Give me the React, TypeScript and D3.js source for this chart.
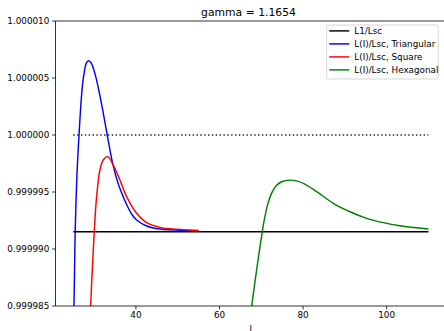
import React from "react";
import * as d3 from "d3";

const W = 444;
const H = 331;

const title = "gamma = 1.1654";
const xLabel = "l";
const xTicks = [40, 60, 80, 100];
const yTicks = [0.999985, 0.99999, 0.999995, 1.0, 1.000005, 1.00001];

const refX = [25, 110];
const dottedY = 1.0;
const l1Value = 0.99999152;

const triX = [25.0, 25.23, 25.47, 25.9, 26.38, 26.9, 27.25, 27.72, 28.1, 28.68, 29.3, 29.9, 30.5, 31.55, 32.34, 33.13, 33.85, 34.57, 35.4, 36.17, 37.77, 39.0, 40.17, 42.56, 45.74, 52.92, 55.0];
const triY = [0.9999815, 0.9999864, 0.99999152, 0.99999664, 1.0, 1.00000307, 1.00000453, 1.0000057, 1.00000628, 1.00000651, 1.0000063, 1.00000575, 1.00000495, 1.00000315, 1.0000016, 1.0, 0.99999855, 0.9999973, 0.99999615, 0.9999953, 0.9999939, 0.99999305, 0.99999254, 0.99999202, 0.99999175, 0.99999161, 0.99999158];

const sqX = [28.9, 29.15, 30.02, 30.59, 31.38, 32.17, 33.23, 34.57, 36.17, 37.77, 40.17, 42.56, 45.74, 52.92, 55.0];
const sqY = [0.999983, 0.999985, 0.99999152, 0.99999459, 0.99999693, 0.99999781, 0.9999981, 0.99999737, 0.99999605, 0.99999459, 0.99999313, 0.99999231, 0.9999919, 0.99999167, 0.99999163];

const hexX = [67.4, 67.69, 68.9, 70.23, 70.71, 71.52, 72.48, 73.51, 74.87, 76.9, 78.6, 80.3, 83.25, 87.22, 91.22, 95.22, 99.19, 103.19, 110.0];
const hexY = [0.99998425, 0.999985, 0.9999882, 0.99999152, 0.99999255, 0.99999389, 0.9999949, 0.99999552, 0.9999959, 0.99999604, 0.99999595, 0.99999572, 0.99999503, 0.99999401, 0.99999327, 0.99999269, 0.99999231, 0.99999204, 0.99999175];

const legendLabels = ["L1/Lsc", "L(I)/Lsc, Triangular", "L(I)/Lsc, Square", "L(I)/Lsc, Hexagonal"];
const colors = ["#000000", "#0000ff", "#ff0000", "#008000"];

const FONT = "DejaVu Sans, sans-serif";

export default function App() {
  const left = 55.5;
  const right = 446.2;
  const top = 21;
  const bottom = 306;

  const x = d3.scaleLinear().domain([20.75, 114.25]).range([left, right]);
  const y = d3.scaleLinear().domain([0.999985, 1.00001]).range([bottom, top]);

  const line = d3
    .line<[number, number]>()
    .x((d) => x(d[0]))
    .y((d) => y(d[1]))
    .curve(d3.curveCatmullRom.alpha(0.5));

  const zip = (xs: number[], ys: number[]) => xs.map((v, i) => [v, ys[i]] as [number, number]);

  const series = [
    zip(refX, [l1Value, l1Value]),
    zip(triX, triY),
    zip(sqX, sqY),
    zip(hexX, hexY),
  ];

  const legX = 326.7;
  const legY = 25;
  const legW = 111.5;
  const legH = 54;
  const rowY = [30.9, 43.9, 56.9, 69.9];

  return (
    <svg
      width={W}
      height={H}
      style={{ position: "fixed", left: 0, top: 0, background: "#fff" }}
      fontFamily={FONT}
    >
      <defs>
        <clipPath id="plot">
          <rect x={left} y={top} width={right - left} height={bottom - top} />
        </clipPath>
      </defs>
      <rect x={0} y={0} width={W} height={H} fill="#fff" />

      <g clipPath="url(#plot)">
        <path
          d={line(zip(refX, [dottedY, dottedY])) || ""}
          fill="none"
          stroke="#000"
          strokeWidth={1.45}
          strokeDasharray="1.45,2.4"
          opacity={0.85}
        />
        {series.map((s, i) => (
          <path key={i} d={line(s) || ""} fill="none" stroke={colors[i]} strokeWidth={1.45} />
        ))}
      </g>

      {/* spines */}
      <line x1={left} x2={left} y1={top} y2={bottom} stroke="#000" strokeWidth={0.8} />
      <line x1={left} x2={W} y1={bottom} y2={bottom} stroke="#000" strokeWidth={0.8} />
      <line x1={left} x2={W} y1={top} y2={top} stroke="#000" strokeWidth={0.8} />

      {/* x ticks */}
      {xTicks.map((t) => (
        <g key={t}>
          <line x1={x(t)} x2={x(t)} y1={bottom} y2={bottom + 3.4} stroke="#000" strokeWidth={0.8} />
          <text x={x(t)} y={318.3} fontSize={8.8} textAnchor="middle" fill="#000">
            {t}
          </text>
        </g>
      ))}

      {/* y ticks */}
      {yTicks.map((t) => (
        <g key={t}>
          <line x1={left - 3.4} x2={left} y1={y(t)} y2={y(t)} stroke="#000" strokeWidth={0.8} />
          <text x={49.3} y={y(t)} dy="0.35em" fontSize={8.8} textAnchor="end" fill="#000">
            {t.toFixed(6)}
          </text>
        </g>
      ))}

      <text x={248.5} y={15.5} fontSize={10.8} textAnchor="middle" fill="#000">
        {title}
      </text>
      <text x={250.7} y={331.5} fontSize={8.8} textAnchor="middle" fill="#000">
        {xLabel}
      </text>

      {/* legend */}
      <rect
        x={legX}
        y={legY}
        width={legW}
        height={legH}
        rx={2}
        fill="#fff"
        fillOpacity={0.8}
        stroke="#cccccc"
        strokeWidth={0.8}
      />
      {legendLabels.map((lab, i) => (
        <g key={lab}>
          <line x1={329.3} x2={349.3} y1={rowY[i]} y2={rowY[i]} stroke={colors[i]} strokeWidth={1.45} />
          <text x={354.3} y={rowY[i]} dy="0.35em" fontSize={8.8} fill="#000">
            {lab}
          </text>
        </g>
      ))}
    </svg>
  );
}
